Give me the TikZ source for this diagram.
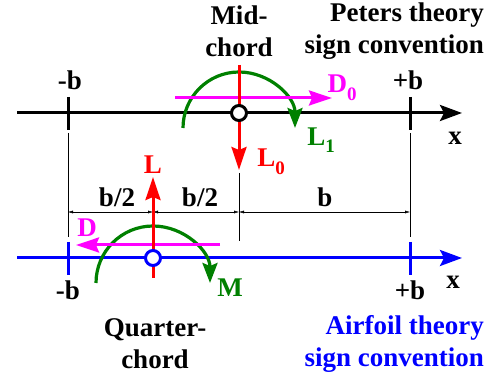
\documentclass[tikz,border=0pt]{standalone}
\usepackage{fontspec}
\setmainfont{Liberation Serif}[BoldFont={Liberation Serif Bold}]
\newfontfamily\timesbf{Liberation Serif Bold}
\usetikzlibrary{calc,arrows.meta}
\definecolor{mgreen}{RGB}{0,128,0}
\definecolor{mmag}{RGB}{255,0,255}
\newcommand\lsub[1]{\raisebox{-0.28em}{\fontsize{19}{19}\selectfont#1}}

\begin{document}
\begin{tikzpicture}[line join=round,x=1pt,y=1pt,
  font=\timesbf\fontsize{27}{32}\selectfont,
  axis/.style={line width=3pt,-{Stealth[length=22pt,width=16pt,inset=4pt]}},
  tick/.style={line width=3pt},
  dim/.style={thin,{Latex[length=5pt,width=3pt]}-{Latex[length=5pt,width=3pt]}},
  force/.style={line width=3pt,-{Stealth[length=23pt,width=15pt,inset=3pt]}},
  moment/.style={line width=3.2pt,draw=mgreen,-{Stealth[length=20pt,width=15pt,inset=3pt]}},
  lbl/.style={inner sep=0pt}]
\useasboundingbox (0,0) rectangle (492,377);
% Peters axis (mid-chord)
\coordinate (P0) at (17,264);
\coordinate (P1) at (462,264);
\coordinate (Pmb) at (68,264);
\coordinate (Ppb) at (410,264);
\coordinate (Pmc) at (239,264);
% airfoil axis (quarter-chord)
\coordinate (A0) at (17,119);
\coordinate (A1) at (462,119);
\coordinate (Amb) at (68,119);
\coordinate (Apb) at (410,119);
\coordinate (Aqc) at (153,119);
% dimension line
\coordinate (D1) at (68,165);
\coordinate (D2) at (153,165);
\coordinate (D3) at (239,165);
\coordinate (D4) at (410,165);
\draw[axis](P0)--(P1);
\draw[axis,blue](A0)--(A1);
\foreach \p in {Pmb,Ppb}{\draw[tick]($(\p)+(0,16)$)--($(\p)+(0,-17)$);}
\foreach \p in {Amb,Apb}{\draw[tick,blue]($(\p)+(0,16)$)--($(\p)+(0,-17)$);}
\draw[thin]($(Pmb)+(0,-20)$)--($(Amb)+(0,21)$) ($(Ppb)+(0,-20)$)--($(Apb)+(0,21)$);
\draw[thin]($(Pmc)+(0,-60)$)--($(D3)+(0,-29)$);
\draw[dim](D1)--(D2);
\draw[dim](D2)--(D3);
\draw[dim](D3)--(D4);
% loads at mid-chord
\draw[moment]($(Pmc)+(-56,-15)$) arc[start angle=180,end angle=0,radius=56];
\draw[force,mmag]($(Pmc)+(-64,15)$)--($(Pmc)+(93,15)$);
\draw[force,red]($(Pmc)+(0,48)$)--($(Pmc)+(0,-57)$);
\draw[line width=3pt,fill=white](Pmc) circle (7.5);
% loads at quarter-chord
\draw[moment]($(Aqc)+(-57,-25)$) arc[start angle=180,end angle=0,radius=57];
\draw[force,mmag]($(Aqc)+(67,13)$)--($(Aqc)+(-77,13)$);
\draw[force,red]($(Aqc)+(0,-20)$)--($(Aqc)+(0,81)$);
\draw[line width=3pt,blue,fill=white](Aqc) circle (7.5);
% labels
\node[lbl] (tMid) at (239,346) [align=center] {Mid-\\chord};
\node[lbl] (tPet) at (484,346) [anchor=east,align=right] {Peters theory\\sign convention};
\node[lbl] (tQc) at (155,33) [align=center] {Quarter-\\chord};
\node[lbl,blue] (tAir) at (484,33) [anchor=east,align=right] {Airfoil theory\\sign convention};
\foreach \n/\t/\x/\y in {pmb/-b/70/297,ppb/+b/408/297,px/x/455/239,amb/-b/68/87,apb/+b/410/87,ax/x/453/95,
  h1/b\slash 2/117/180,h2/b\slash 2/200/180,hb/b/325/180}
  {\node[lbl] (\n) at (\x,\y) {\t};}
\node[lbl,mmag] (lD0) at (342,289) {D\lsub{0}};
\node[lbl,mgreen] (lL1) at (321,237) {L\lsub{1}};
\node[lbl,red] (lL0) at (271,215) {L\lsub{0}};
\node[lbl,red] (lL) at (153,212) {L};
\node[lbl,mmag] (lD) at (87,149) {D};
\node[lbl,mgreen] (lM) at (230,89) {M};
\end{tikzpicture}
\end{document}
